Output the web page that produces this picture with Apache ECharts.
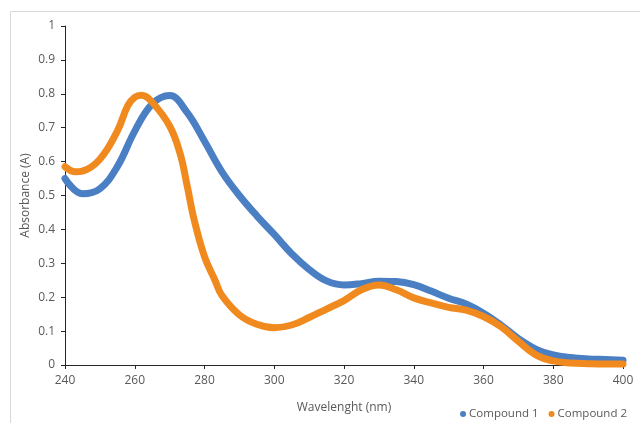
<!DOCTYPE html>
<html>
<head>
<meta charset="utf-8">
<script src="https://cdn.jsdelivr.net/npm/echarts@6/dist/echarts.min.js"></script>
<style>
html,body{margin:0;padding:0;background:#fff;}
#chart{width:640px;height:423px;}
</style>
</head>
<body>
<div id="chart"></div>
<script>
var seriesNames = ['Compound 1', 'Compound 2'];
var xTicks = [240, 260, 280, 300, 320, 340, 360, 380, 400];
var yTicks = [0, 0.1, 0.2, 0.3, 0.4, 0.5, 0.6, 0.7, 0.8, 0.9, 1];

var wavelength1 = [240, 245, 250, 255, 260, 265, 270, 275, 280, 285, 290, 295, 300, 305, 310, 315, 320, 325, 330, 335, 340, 345, 350, 355, 360, 365, 370, 375, 380, 385, 390, 395, 400];
var absorbance1 = [0.55, 0.505, 0.52, 0.585, 0.69, 0.77, 0.795, 0.745, 0.66, 0.57, 0.5, 0.44, 0.385, 0.328, 0.282, 0.248, 0.236, 0.24, 0.247, 0.246, 0.237, 0.218, 0.197, 0.18, 0.153, 0.118, 0.078, 0.047, 0.03, 0.022, 0.018, 0.016, 0.014];

var wavelength2 = [240, 243, 245, 250, 255, 258, 260, 262, 265, 270, 273, 275, 277, 280, 283, 285, 290, 295, 300, 305, 310, 315, 320, 325, 330, 335, 340, 345, 350, 355, 360, 365, 370, 375, 380, 385, 390, 395, 400];
var absorbance2 = [0.585, 0.57, 0.572, 0.607, 0.69, 0.765, 0.79, 0.796, 0.775, 0.705, 0.624, 0.53, 0.43, 0.32, 0.25, 0.205, 0.148, 0.12, 0.11, 0.118, 0.14, 0.165, 0.19, 0.222, 0.236, 0.222, 0.198, 0.183, 0.17, 0.162, 0.143, 0.113, 0.07, 0.03, 0.012, 0.006, 0.004, 0.003, 0.003];

function pairs(xs, ys) { return xs.map(function (x, i) { return [x, ys[i]]; }); }

var colors = ['#4B7FC4', '#F08A1F'];
var chart = echarts.init(document.getElementById('chart'));
var fontFam = '"Open Sans", "Liberation Sans", sans-serif';
chart.setOption({
  animation: false,
  color: colors,
  textStyle: { fontFamily: fontFam },
  graphic: [{
    type: 'rect', shape: { x: 10.5, y: 11.5, width: 700, height: 500 },
    style: { fill: 'none', stroke: '#d9d9d9', lineWidth: 1 }, silent: true
  }],
  grid: { left: 65, right: 17, top: 26, bottom: 58, containLabel: false },
  legend: {
    data: seriesNames, right: 8, top: 403, icon: 'circle', itemWidth: 6, itemHeight: 6, itemGap: 10,
    textStyle: { color: '#595959', fontSize: 11.5, fontFamily: fontFam, padding: [0, 0, 0, -2] }
  },
  xAxis: {
    type: 'value', min: 240, max: 400, interval: 20,
    name: 'Wavelenght (nm)', nameLocation: 'middle', nameGap: 37, nameMoveOverlap: false,
    nameTextStyle: { color: '#595959', fontSize: 12 },
    axisLine: { show: true, lineStyle: { color: '#262626', width: 1 } },
    axisTick: { show: true, length: 4, lineStyle: { color: '#262626' } },
    axisLabel: { color: '#595959', fontSize: 12, margin: 10, formatter: function (v) { return xTicks.indexOf(v) >= 0 ? String(v) : ''; } },
    splitLine: { show: false }
  },
  yAxis: {
    type: 'value', min: 0, max: 1, interval: 0.1,
    name: 'Absorbance (A)', nameLocation: 'middle', nameGap: 33, nameMoveOverlap: false,
    nameTextStyle: { color: '#595959', fontSize: 12 },
    axisLine: { show: true, lineStyle: { color: '#262626', width: 1 } },
    axisTick: { show: true, length: 4, lineStyle: { color: '#262626' } },
    axisLabel: { color: '#595959', fontSize: 12, margin: 10, formatter: function (v) {
      var r = Math.round(v * 10) / 10;
      return yTicks.indexOf(r) >= 0 ? String(r) : '';
    } },
    splitLine: { show: false }
  },
  series: [
    { name: seriesNames[0], type: 'line', smooth: 0.4, showSymbol: false, symbol: 'circle',
      data: pairs(wavelength1, absorbance1), lineStyle: { width: 7, color: colors[0], cap: 'round' }, itemStyle: { color: colors[0] } },
    { name: seriesNames[1], type: 'line', smooth: 0.4, showSymbol: false, symbol: 'circle',
      data: pairs(wavelength2, absorbance2), lineStyle: { width: 7, color: colors[1], cap: 'round' }, itemStyle: { color: colors[1] } }
  ]
});
</script>
</body>
</html>
